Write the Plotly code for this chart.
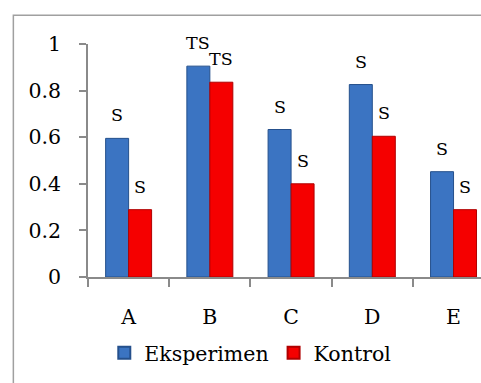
import plotly.graph_objects as go

categories = ["A", "B", "C", "D", "E"]
eksperimen = [0.595, 0.905, 0.633, 0.826, 0.452]
kontrol = [0.289, 0.836, 0.400, 0.604, 0.289]
label_eks = ["S", "TS", "S", "S", "S"]
label_kon = ["S", "TS", "S", "S", "S"]
y_ticks = [0, 0.2, 0.4, 0.6, 0.8, 1]
y_ticktext = ["0", "0.2", "0.4", "0.6", "0.8", "1"]

FONT = "DejaVu Serif"
W, H = 481, 383
L, T, B = 87.7, 43.7, 383 - 276.7
PW = W - L
PH = H - T - B

fig = go.Figure()
fig.add_trace(go.Bar(
    x=categories, y=eksperimen, name="Eksperimen",
    marker=dict(color="#3b74c2", line=dict(color="#25508c", width=1)),
))
fig.add_trace(go.Bar(
    x=categories, y=kontrol, name="Kontrol",
    marker=dict(color="#f50000", line=dict(color="#b00000", width=1)),
))

annotations = []
bar_px = 0.283 * (PW / 4.838)
for cat, v, t in zip(categories, eksperimen, label_eks):
    annotations.append(dict(x=cat, y=v, text=t, showarrow=False, xshift=-bar_px / 2,
                            yanchor="bottom", yshift=11,
                            font=dict(family=FONT, size=17.5, color="black")))
for cat, v, t in zip(categories, kontrol, label_kon):
    annotations.append(dict(x=cat, y=v, text=t, showarrow=False, xshift=bar_px / 2,
                            yanchor="bottom", yshift=11,
                            font=dict(family=FONT, size=17.5, color="black")))

def px_to_paper_x(px):
    return (px - L) / PW

def py_to_paper_y(py):
    return (H - B - py) / PH

fig.update_layout(
    width=W, height=H,
    margin=dict(l=L, r=0, t=T, b=B, autoexpand=False),
    paper_bgcolor="white", plot_bgcolor="white",
    barmode="group", bargap=0.434, bargroupgap=0,
    font=dict(family=FONT, size=20.5, color="black"),
    showlegend=True,
    legend=dict(orientation="h", x=px_to_paper_x(104), xanchor="left",
                y=py_to_paper_y(352.7), yanchor="middle",
                font=dict(family=FONT, size=20.5, color="black"),
                bgcolor="rgba(0,0,0,0)", itemsizing="constant",
                tracegroupgap=0),
    annotations=annotations,
    shapes=[dict(type="path", xref="paper", yref="paper",
                 path=f"M {px_to_paper_x(13)},{py_to_paper_y(390)} L {px_to_paper_x(13)},{py_to_paper_y(15)} L {px_to_paper_x(490)},{py_to_paper_y(15)}",
                 line=dict(color="#a0a0a0", width=1.5))],
    xaxis=dict(
        type="category", range=[-0.5, 4.338],
        showline=True, linecolor="#8a8a8a", linewidth=1.5,
        ticks="outside", ticklen=8, tickcolor="#8a8a8a", tickwidth=1.5,
        tickson="boundaries", showgrid=False, zeroline=False,
        ticklabelstandoff=21,
        tickfont=dict(family=FONT, size=20.5, color="black"),
    ),
    yaxis=dict(
        range=[0, 1], tickvals=y_ticks, ticktext=y_ticktext,
        showline=True, linecolor="#8a8a8a", linewidth=1.5,
        ticks="outside", ticklen=7, tickcolor="#8a8a8a", tickwidth=1.5,
        showgrid=False, zeroline=False,
        ticklabelstandoff=14,
        tickfont=dict(family=FONT, size=20.5, color="black"),
    ),
)

fig.write_html("out.html")
